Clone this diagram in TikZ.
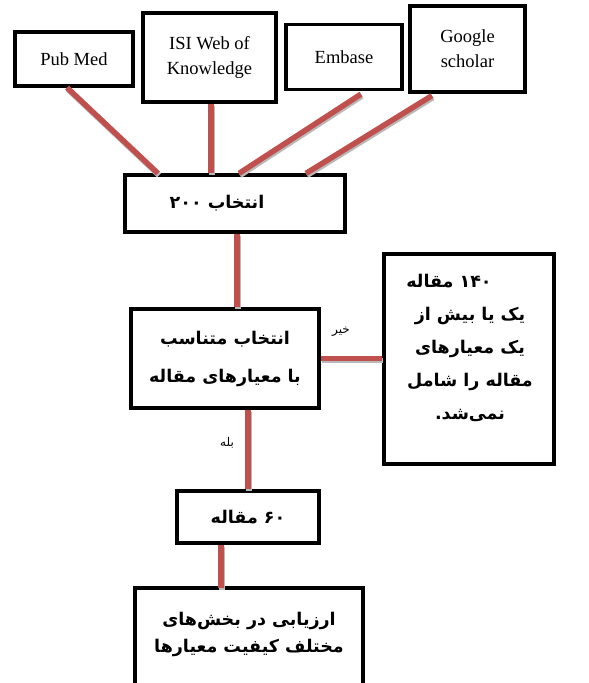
\documentclass[tikz,border=0pt]{standalone}
\usepackage{fontspec}
\setmainfont{Liberation Serif}
\newfontfamily\arabicfont[Script=Arabic]{DejaVu Sans}
\TeXXeTstate=1
\definecolor{linkred}{RGB}{192,80,77}
\tikzset{srcbox/.style={draw,line width=3.2pt,align=center,inner sep=0pt,font=\fontsize{18.5}{25}\selectfont},
         flowbox/.style={draw,line width=3.2pt,align=center,inner sep=0pt,font=\arabicfont\bfseries\fontsize{17.5}{38}\selectfont},
         flowtext/.style={align=center,inner sep=0pt,font=\arabicfont\bfseries\fontsize{17.5}{33}\selectfont},
         link/.style={line width=5.5pt,draw=linkred,preaction={draw=gray!55,line width=5.5pt,transform canvas={shift={(1pt,-2pt)}}}},
         tag/.style={inner sep=0pt,font=\arabicfont\fontsize{12}{14}\selectfont}}

\begin{document}
\begin{tikzpicture}[x=1pt,y=-1pt]
                  \useasboundingbox (0,0) rectangle (589,683);
                  % sources
                  \node[srcbox,minimum width=118pt,minimum height=54pt] (pubmed) at (74,59) {Pub Med};
                  \node[srcbox,minimum width=133pt,minimum height=89pt] (isi) at (209.5,57.5) {ISI Web of\\Knowledge};
                  \node[srcbox,minimum width=116pt,minimum height=65pt] (embase) at (344,57) {Embase};
                  \node[srcbox,minimum width=115pt,minimum height=86pt] (google) at (467.5,49) {Google\\scholar};
                  % flow
                  \node[flowbox,minimum width=220pt,minimum height=57pt] (sel200) at (235,203.5) {\beginR\hspace*{36pt}انتخاب \beginL ۲۰۰\endL\endR};
                  \node[flowbox,minimum width=188pt,minimum height=99pt] (match) at (225,358.5) {\beginR انتخاب متناسب\endR\\\beginR با معیارهای مقاله\endR};
                  \node[flowbox,minimum width=170pt,minimum height=210pt] (rej140) at (469,359) {};
                  \node[flowtext] (rejtext) at (470,348) {\beginR\hspace*{42pt}\beginL ۱۴۰\endL{} مقاله\endR\\\beginR یک یا بیش از\endR\\\beginR یک معیارهای\endR\\\beginR مقاله را شامل\endR\\\beginR نمی‌شد.\endR};
                  \node[flowbox,minimum width=142pt,minimum height=52pt] (art60) at (248,517) {\beginR\beginL ۶۰\endL{} مقاله\endR};
                  \draw[line width=3.2pt] (135,730) |- (363,588) -- (363,730);
                  \coordinate (evaltop) at (221,588);
                  \node[flowtext,font=\arabicfont\bfseries\fontsize{17.5}{27}\selectfont] (evaltext) at (249,634) {\beginR ارزیابی در بخش‌های\endR\\\beginR مختلف کیفیت معیارها\endR};
                  % connectors
                  \draw[link] ([xshift=-7pt]pubmed.south) -- ([xshift=-77pt]sel200.north);
                  \draw[link] ([xshift=1.5pt]isi.south) -- ([xshift=-24pt]sel200.north);
                  \draw[link] ([xshift=17pt,yshift=-3pt]embase.south) -- ([xshift=4pt]sel200.north);
                  \draw[link] ([xshift=-35.5pt,yshift=-2pt]google.south) -- ([xshift=71pt]sel200.north);
                  \draw[link] ([xshift=2pt]sel200.south) -- ([xshift=12pt]match.north);
                  \draw[link] (match.east) -- (match.east -| rej140.west);
                  \draw[link] ([xshift=23pt]match.south) -- ([xshift=23pt]match.south |- art60.north);
                  \draw[link] (art60.south -| evaltop) -- (evaltop);
                  % labels
                  \node[tag] (no) at (341,332) {\beginR خیر\endR};
                  \node[tag] (yes) at (227,443) {\beginR بله\endR};
              \end{tikzpicture}
\end{document}
